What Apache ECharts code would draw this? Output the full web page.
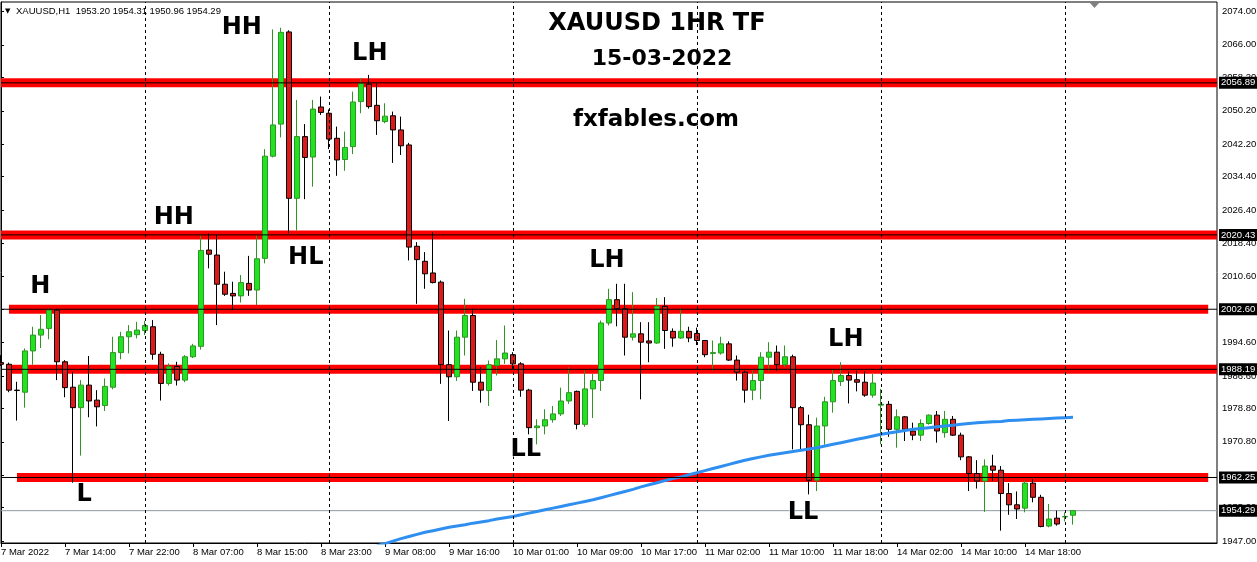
<!DOCTYPE html>
<html><head><meta charset="utf-8">
<script src="https://cdn.jsdelivr.net/npm/echarts@6/dist/echarts.min.js"></script>
<style>html,body{margin:0;padding:0;background:#fff;}#c{width:1257px;height:562px;}</style>
</head><body><div id="c"></div>
<script>
// ---- data ----
const symbolName = 'XAUUSD,H1';
const opens = [1989.8,1989.4,1983.2,1982.7,1992.6,1996.4,1998.0,2002.4,1990.0,1983.9,
 1979.0,1984.4,1980.8,1979.5,1983.9,1992.2,1996.0,1996.5,1997.5,1998.4,
 1991.8,1984.8,1988.9,1985.6,1991.2,1993.7,2016.8,2015.6,2008.6,2006.4,
 2005.8,2008.8,2007.2,2014.8,2039.3,2047.0,2069.1,2029.2,2044.0,2039.1,
 2051.1,2049.6,2043.6,2038.5,2041.6,2052.4,2056.6,2051.5,2047.6,2049.0,
 2045.6,2042.0,2017.7,2014.1,2011.3,2009.1,1989.3,1986.4,1995.9,2001.1,
 1985.1,1983.1,1989.1,1990.7,1991.7,1989.5,1983.2,1974.2,1974.6,1976.1,
 1977.5,1980.6,1982.9,1975.0,1983.5,1985.5,1999.3,2004.9,2002.7,1995.9,
 1996.7,1995.0,1994.5,2003.3,1997.3,1995.7,1997.3,1996.8,1995.1,1992.0,
 1992.1,1994.3,1990.4,1987.5,1983.2,1985.5,1991.1,1992.3,1989.3,1991.2,
 1979.0,1974.9,1961.6,1974.6,1980.4,1985.3,1986.7,1985.7,1985.1,1982.0,
 1979.6,1979.8,1973.8,1976.8,1973.4,1972.4,1975.2,1977.2,1973.0,1976.2,
 1972.4,1967.2,1963.2,1961.4,1965.0,1964.0,1958.4,1955.7,1954.9,1960.9,
 1957.5,1950.6,1952.5,1952.8,1953.20];
const highs = [1991.6,1989.8,1985.2,1993.2,1998.4,2001.2,2002.8,2002.6,1990.4,1987.6,
 1985.6,1991.4,1983.2,1986.0,1996.0,1997.2,1998.8,1999.6,1999.8,2000.0,
 1992.4,1989.6,1990.0,1991.6,1994.3,2020.4,2020.8,2020.4,2011.6,2009.2,
 2010.8,2015.4,2020.4,2041.0,2069.7,2070.1,2069.5,2052.8,2047.0,2052.8,
 2053.6,2050.5,2046.4,2045.2,2054.8,2058.0,2058.8,2056.8,2052.0,2050.0,
 2048.8,2042.5,2018.7,2016.3,2021.1,2009.5,1997.5,1997.5,2005.1,2002.7,
 1988.7,1990.3,1995.2,1998.7,1992.3,1989.9,1983.5,1976.2,1978.6,1979.4,
 1983.8,1988.7,1983.1,1987.9,1987.1,1999.9,2007.5,2008.7,2008.7,2006.7,
 1999.5,1999.5,2005.3,2005.5,1998.0,2002.9,1998.4,1998.2,1995.2,1995.1,
 1996.0,1994.9,1991.5,1987.9,1987.9,1992.3,1994.7,1993.9,1993.9,1991.7,
 1979.4,1977.3,1976.6,1981.6,1988.3,1989.9,1987.7,1987.9,1987.7,1987.1,
 1983.5,1980.6,1978.6,1977.0,1975.4,1976.2,1977.4,1978.2,1978.2,1977.0,
 1973.0,1967.4,1966.4,1966.6,1967.7,1965.0,1960.9,1958.9,1961.5,1961.9,
 1958.1,1955.9,1954.3,1953.9,1954.31];
const lows = [1989.0,1982.7,1975.9,1979.0,1989.3,1993.3,1995.4,1985.6,1981.5,1961.0,
 1967.5,1976.7,1974.5,1978.2,1983.4,1990.6,1992.0,1995.6,1996.4,1990.5,
 1980.7,1984.3,1984.3,1985.1,1990.9,1992.9,2012.4,1998.8,2005.8,2002.4,
 2004.2,2005.8,2003.6,2013.6,2039.0,2043.8,2020.8,2021.5,2029.0,2032.0,
 2049.2,2041.0,2034.6,2035.8,2039.8,2049.6,2050.7,2044.4,2047.2,2037.7,
 2039.6,2014.3,2003.9,2007.5,2008.8,1984.7,1975.8,1985.4,1991.5,1983.0,
 1980.2,1979.4,1986.7,1989.5,1988.3,1981.6,1972.6,1970.2,1972.6,1975.4,
 1977.0,1979.9,1973.8,1974.4,1976.5,1983.0,1998.7,1998.5,1991.5,1995.1,
 1981.0,1989.9,1994.3,1993.1,1993.6,1995.5,1994.7,1994.0,1991.1,1987.9,
 1991.7,1990.2,1985.5,1980.2,1980.8,1981.0,1987.7,1987.9,1988.7,1969.0,
 1969.0,1958.2,1959.0,1970.1,1977.8,1984.2,1980.0,1982.9,1981.6,1981.4,
 1970.2,1972.0,1969.4,1971.0,1971.2,1971.0,1974.9,1970.6,1971.8,1972.2,
 1966.4,1959.0,1959.6,1954.0,1961.4,1949.5,1953.3,1952.3,1953.9,1956.3,
 1950.3,1950.3,1950.7,1951.7,1950.96];
const closes = [1989.4,1983.2,1983.1,1992.6,1996.4,1997.8,2002.4,1990.0,1983.8,1979.0,
 1984.4,1980.6,1979.2,1984.1,1992.2,1996.0,1997.2,1997.6,1998.7,1991.8,
 1984.8,1988.8,1985.6,1991.2,1993.8,2016.7,2015.8,2008.6,2006.2,2005.8,
 2009.0,2007.2,2014.7,2039.3,2046.8,2069.0,2029.2,2044.0,2039.0,2050.6,
 2049.8,2043.4,2038.4,2041.4,2052.3,2056.7,2051.2,2047.8,2048.9,2045.6,
 2041.8,2017.5,2014.5,2011.1,2009.0,1989.3,1986.4,1995.9,2001.1,1985.1,
 1983.2,1989.3,1990.7,1992.1,1989.5,1983.2,1974.2,1974.6,1976.1,1977.5,
 1980.6,1982.6,1975.0,1983.5,1985.5,1999.3,2004.9,2002.7,1995.9,1996.7,
 1994.7,1994.5,2003.3,1997.5,1995.7,1997.3,1995.7,1995.1,1991.7,1992.2,
 1994.3,1990.4,1987.5,1983.2,1985.5,1991.1,1992.3,1989.3,1991.2,1979.0,
 1974.9,1961.6,1974.6,1980.4,1985.5,1986.7,1985.6,1985.1,1982.0,1984.9,
 1979.8,1973.8,1976.8,1973.8,1972.4,1975.2,1977.2,1973.4,1976.2,1972.4,
 1967.2,1963.2,1961.4,1965.0,1964.0,1958.4,1955.7,1954.7,1960.9,1957.5,
 1950.5,1952.3,1951.1,1952.9,1954.29];
// moving average (blue), first visible bar index and its values
const maStart = 47;
const maValues = [1945.9,1946.4,1947.0,1947.6,1948.1,1948.6,1949.1,1949.5,1949.9,1950.3,
 1950.6,1950.9,1951.3,1951.6,1951.9,1952.3,1952.6,1952.9,1953.3,1953.7,
 1954.1,1954.5,1954.9,1955.3,1955.7,1956.1,1956.5,1956.9,1957.4,1957.9,
 1958.4,1958.9,1959.4,1960.0,1960.5,1961.0,1961.5,1962.0,1962.4,1962.9,
 1963.4,1963.9,1964.4,1964.9,1965.4,1965.9,1966.4,1966.8,1967.2,1967.6,
 1967.9,1968.2,1968.5,1968.8,1969.1,1969.4,1969.8,1970.2,1970.6,1971.0,
 1971.4,1971.8,1972.2,1972.6,1972.9,1973.2,1973.5,1973.8,1974.0,1974.2,
 1974.4,1974.6,1974.8,1975.0,1975.2,1975.4,1975.5,1975.6,1975.7,1975.9,
 1976.0,1976.1,1976.2,1976.3,1976.4,1976.5,1976.6,1976.7];
// trading sessions: [day, first hour, last hour]
const daySessions = [['7 Mar',6,23],['8 Mar',1,23],['9 Mar',1,23],['10 Mar',1,23],['11 Mar',1,23],['14 Mar',0,22],['15 Mar',0,19]];
const xTickLabels = ['7 Mar 2022','7 Mar 14:00','7 Mar 22:00','8 Mar 07:00','8 Mar 15:00','8 Mar 23:00','9 Mar 08:00','9 Mar 16:00','10 Mar 01:00','10 Mar 09:00','10 Mar 17:00','11 Mar 02:00','11 Mar 10:00','11 Mar 18:00','14 Mar 02:00','14 Mar 10:00','14 Mar 18:00'];
const xTickEvery = 8;
const yTickValues = [2074.00,2066.00,2058.20,2050.20,2042.20,2034.40,2026.40,2018.40,2010.60,2002.60,1994.60,1986.60,1978.80,1970.80,1962.80,1955.00,1947.00];
const yMin = 1946.54, yMax = 2076.28;
const levelPrices = [2056.89, 2020.43, 2002.60, 1988.19, 1962.25];
const levelFrom = [0, 0, 1, 0.9, 2];
const levelTo = [152, 152, 150.9, 152, 150.9];
const bidPrice = 1954.29;
const daySeparators = [18, 41, 64, 87, 110, 133];
const annotTexts = ['HH','LH','HH','HL','H','L','LH','LL','LH','LL'];
const annotX = [30.1,46.1,21.6,38.1,4.9,10.4,75.75,65.6,105.6,100.25];
const annotY = [2070.0,2063.8,2024.5,2014.9,2007.9,1958.05,2014.2,1968.8,1995.2,1953.7];
const titleLines = ['XAUUSD 1HR TF','15-03-2022','fxfables.com'];

// ---- build ----
const categories = [];
daySessions.forEach(([d,h0,h1]) => { for (let h = h0; h <= h1; h++) categories.push(d + ' ' + String(h).padStart(2,'0') + ':00'); });
const lastIdx = categories.length - 1;
const candleData = opens.map((o,i) => [o, closes[i], lows[i], highs[i]]);
const maData = categories.map((c,i) => (i >= maStart && i - maStart < maValues.length) ? maValues[i - maStart] : null);
const tickShown = (i) => i % xTickEvery === 0 && (i / xTickEvery) < xTickLabels.length;
const AX_FONT = 'Liberation Sans';
const header = symbolName + '  ' + [opens[opens.length-1], highs[highs.length-1], lows[lows.length-1], closes[closes.length-1]].map(v => v.toFixed(2)).join(' ');

const chart = echarts.init(document.getElementById('c'), null, {renderer:'canvas'});
const series = [];
levelPrices.forEach((p,i) => series.push({
  type:'line', xAxisIndex:1, yAxisIndex:0, data:[[levelFrom[i],p],[levelTo[i],p]],
  symbol:'none', silent:true, z:1, lineStyle:{color:'#ff0000', width:9, cap:'butt'}
}));
series.push({type:'line', xAxisIndex:1, data:[], z:2, silent:true,
  markLine:{silent:true, symbol:['none','none'], label:{show:false},
    lineStyle:{color:'#000', type:[3,3], width:1}, data: daySeparators.map(k => ({xAxis:k}))}});
series.push({type:'line', xAxisIndex:1, data:[[0,bidPrice],[lastIdx,bidPrice]], symbol:'none', silent:true, z:2,
  lineStyle:{color:'#8c98a2', width:1}});
series.push({type:'candlestick', xAxisIndex:0, data:candleData, barWidth:5, z:3,
  itemStyle:{color:'#22e322', color0:'#e01818', borderColor:'#2f9424', borderColor0:'#000', borderWidth:1}});
series.push({type:'line', xAxisIndex:0, data:maData, symbol:'none', z:4, silent:true,
  lineStyle:{color:'#2e8ff0', width:3}});
levelPrices.forEach(p => series.push({
  type:'line', xAxisIndex:1, data:[[0,p],[lastIdx,p]], symbol:'none', silent:true, z:5,
  lineStyle:{color:'#000', width:1}
}));
series.push({type:'line', xAxisIndex:1, data:[], z:6, silent:true,
  markLine:{silent:true, symbol:['none','none'], lineStyle:{color:'rgba(0,0,0,0)', width:0},
    label:{show:true, position:'end', distance:2, formatter: p => Number(p.value).toFixed(2),
      backgroundColor:'#000', color:'#fff', padding:[1,2,1,2], fontSize:9.5, fontFamily:AX_FONT},
    data: levelPrices.concat([bidPrice]).map(v => ({yAxis:v}))}});
series.push({type:'scatter', xAxisIndex:1, z:7, silent:true, symbolSize:0,
  itemStyle:{opacity:1, color:'#000'},
  data: annotTexts.map((t,i) => ({name:t, value:[annotX[i], annotY[i]]})),
  label:{show:true, position:'inside', formatter:'{b}', fontFamily:'DejaVu Sans', fontWeight:'bold', fontSize:24, color:'#000', opacity:1,
    textBorderColor:'rgba(255,255,255,0.9)', textBorderWidth:1}});

chart.setOption({
  animation:false,
  backgroundColor:'#fff',
  grid:{left:1, right:40, top:2, bottom:19, show:true, borderColor:'#000', borderWidth:1, containLabel:false, outerBoundsMode:'none'},
  xAxis:[
    {type:'category', data:categories, boundaryGap:false,
      axisLine:{show:true, lineStyle:{color:'#000', width:1}},
      axisTick:{show:true, interval:(i) => tickShown(i), length:4, lineStyle:{color:'#000'}},
      axisLabel:{show:true, interval:(i) => tickShown(i), formatter:(v,i) => xTickLabels[i / xTickEvery],
        align:'left', margin:4, fontSize:9.5, fontFamily:AX_FONT, color:'#000'},
      splitLine:{show:false}},
    {type:'value', min:0, max:lastIdx, show:false, splitLine:{show:false}}
  ],
  yAxis:{type:'value', position:'right', min:yMin, max:yMax, scale:true,
    axisLine:{show:true, lineStyle:{color:'#000', width:1}},
    axisTick:{show:true, customValues:yTickValues, length:3, lineStyle:{color:'#000'}},
    axisLabel:{show:true, customValues:yTickValues, formatter:(v) => Number(v).toFixed(2), margin:5, fontSize:9.5, fontFamily:AX_FONT, color:'#000'},
    splitLine:{show:false}},
  graphic:[
    {type:'text', x:5, y:11, style:{text:'▼', font:'7px "DejaVu Sans"', fill:'#000', align:'left', verticalAlign:'middle'}},
    {type:'text', x:16, y:11, style:{text:header, font:'9.5px "Liberation Sans"', fill:'#000', align:'left', verticalAlign:'middle'}},
    {type:'text', x:657, y:24, style:{text:titleLines[0], font:'bold 24px "DejaVu Sans"', fill:'#000', align:'center', verticalAlign:'middle'}},
    {type:'text', x:662, y:59, style:{text:titleLines[1], font:'bold 22px "DejaVu Sans"', fill:'#000', align:'center', verticalAlign:'middle'}},
    {type:'text', x:656, y:120, style:{text:titleLines[2], font:'bold 23px "DejaVu Sans"', fill:'#000', align:'center', verticalAlign:'middle'}},
    {type:'polygon', shape:{points:[[1090,3],[1099,3],[1094.5,8]]}, style:{fill:'#7f8080'}}
  ],
  series: series
});
</script></body></html>
